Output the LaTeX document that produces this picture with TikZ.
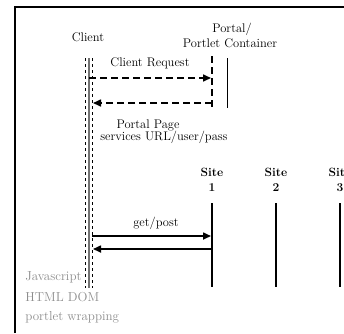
\documentclass[tikz,border=0pt]{standalone}
\usetikzlibrary{arrows.meta}
\begin{document}
\begin{tikzpicture}[x=1pt,y=-1pt,>={Triangle[length=8pt,width=7pt]},thick,
    label text/.style={font=\fontsize{12.5}{14}\selectfont,inner sep=0pt},
    site label/.style={font=\fontsize{12}{15}\selectfont\bfseries,align=center,inner sep=0pt},
    note text/.style={font=\fontsize{13}{15}\selectfont,text=black!45,anchor=west,inner sep=0pt},
    msg/.style={->,line width=1.6pt,shorten >=1pt},
    dash msg/.style={msg,dash pattern=on 7pt off 4pt}]
    \useasboundingbox (0,0) rectangle (344,333);
    \draw[line width=2.5pt] (15,333) -- (15,7) -- (344,7);

    % labels
    \node[label text] (client) at (88,37) {Client};
    \node[label text] (portal) at (232,29) {Portal/};
    \node[label text] (container) at (230,43) {Portlet Container};
    \node[label text] (request) at (150,63) {Client Request};
    \node[label text] (page) at (148,125) {Portal Page};
    \node[label text,anchor=west] (services) at (100,137) {services URL/user/pass};
    \node[site label] (site1) at (212,180) {Site\\1};
    \node[site label] (site2) at (276,180) {Site\\2};
    \node[site label] (site3) at (340,180) {Site\\3};
    \node[label text] (getpost) at (156,223) {get/post};
    \node[note text] (js) at (25,277) {Javascript};
    \node[note text] (dom) at (25,297) {HTML DOM};
    \node[note text] (wrap) at (25,317) {portlet wrapping};

    % lifelines
    \coordinate (c top) at (89,58);
    \coordinate (c bot) at (89,288);
    \coordinate (p top) at (212,56);
    \coordinate (p bot) at (212,110);
    \coordinate (s1 top) at (212,203);
    \coordinate (s1 bot) at (212,287);
    \draw[black!55,line width=2.5pt] (c top) -- (c bot);
    \draw[thin,dashed] ([xshift=-4]c top) -- ([xshift=-4]c bot);
    \draw[thin,dashed] ([xshift=3]c top) -- ([xshift=3]c bot);
    \draw[line width=1.5pt,dash pattern=on 7pt off 4pt] (p top) -- (p bot);
    \draw[semithick] (227,58) -- (227,108);
    \draw[line width=1.4pt] (s1 top) -- (s1 bot);
    \draw[line width=2pt] (276,203) -- (276,287);
    \draw[line width=2pt] (340,203) -- (340,287);

    % messages
    \draw[dash msg] (c top |- 0,78) -- (p top |- 0,78);
    \draw[dash msg] (p top |- 0,103) -- ([xshift=3]c top |- 0,103);
    \draw[msg] ([xshift=3]c top |- 0,236) -- (s1 top |- 0,236);
    \draw[msg] (s1 top |- 0,249) -- ([xshift=3]c top |- 0,249);
\end{tikzpicture}
\end{document}
